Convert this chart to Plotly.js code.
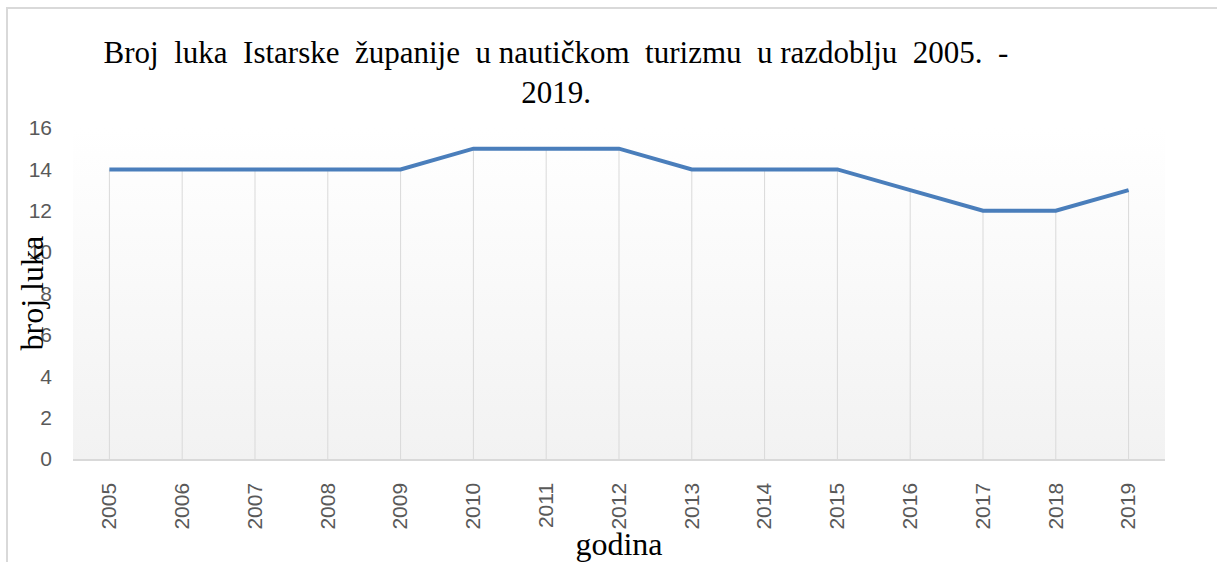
<!DOCTYPE html>
<html>
<head>
<meta charset="utf-8">
<script src="https://cdn.plot.ly/plotly-3.0.1.min.js"></script>
<style>
  html, body { margin: 0; padding: 0; width: 1217px; height: 562px; overflow: hidden; background: #ffffff; }
  #frame { position: absolute; left: 6px; top: 7px; width: 2000px; height: 2000px; border: 2px solid #d9d9d9; box-sizing: border-box; }
  #bg { position: absolute; left: 73px; top: 128px; width: 1092px; height: 331px; background: linear-gradient(to bottom, #ffffff 0%, #fafafa 40%, #f2f2f2 100%); }
  #chart { position: absolute; left: 0; top: 0; width: 1217px; height: 562px; }
</style>
</head>
<body>
<div id="frame"></div>
<div id="bg"></div>
<div id="chart"></div>
<script>
const years = ['2005','2006','2007','2008','2009','2010','2011','2012','2013','2014','2015','2016','2017','2018','2019'];
const brojLuka = [14, 14, 14, 14, 14, 15, 15, 15, 14, 14, 14, 13, 12, 12, 13];
const yTicks = [0, 2, 4, 6, 8, 10, 12, 14, 16];
const chartTitle = 'Broj  luka  Istarske  županije  u nautičkom  turizmu  u razdoblju  2005.  -<br>2019.';
const xTitle = 'godina';
const yTitle = 'broj luka';

const trace = {
  x: years,
  y: brojLuka,
  type: 'scatter',
  mode: 'lines',
  line: { color: '#4a7ebb', width: 4 },
  error_y: {
    type: 'data',
    symmetric: false,
    array: brojLuka.map(() => 0),
    arrayminus: brojLuka,
    color: '#d9d9d9',
    thickness: 1,
    width: 0
  },
  hoverinfo: 'x+y',
  showlegend: false
};

const layout = {
  width: 1217,
  height: 562,
  margin: { l: 73, r: 52, t: 128, b: 103, pad: 0 },
  paper_bgcolor: 'rgba(0,0,0,0)',
  plot_bgcolor: 'rgba(0,0,0,0)',
  title: {
    text: chartTitle,
    font: { family: 'Liberation Serif, Times New Roman, serif', size: 31, color: '#000000' },
    xref: 'container', yref: 'container',
    x: 556 / 1217, xanchor: 'center',
    y: 1 - 63 / 562, yanchor: 'top'
  },
  xaxis: {
    type: 'category',
    range: [-0.5, years.length - 0.5],
    tickangle: -90,
    tickfont: { family: 'Liberation Sans, Arial, sans-serif', size: 21, color: '#595959' },
    showgrid: false,
    showline: true,
    linecolor: '#d9d9d9',
    linewidth: 1.5,
    ticks: '',
    ticklabelstandoff: 14,
    title: {
      text: xTitle,
      font: { family: 'Liberation Serif, Times New Roman, serif', size: 32, color: '#000000' },
      standoff: 6
    },
    automargin: false,
    fixedrange: true
  },
  yaxis: {
    range: [0, 16],
    tickvals: yTicks,
    ticktext: yTicks.map(String),
    tickfont: { family: 'Liberation Sans, Arial, sans-serif', size: 21, color: '#595959' },
    showgrid: false,
    zeroline: false,
    showline: false,
    ticks: '',
    ticklabelstandoff: 20,
    automargin: false,
    fixedrange: true
  },
  annotations: [{
    text: yTitle,
    xref: 'paper', yref: 'y',
    x: (31 - 73) / 1092, y: 8,
    xanchor: 'center', yanchor: 'middle',
    textangle: -90,
    showarrow: false,
    font: { family: 'Liberation Serif, Times New Roman, serif', size: 32, color: '#000000' }
  }]
};

Plotly.newPlot('chart', [trace], layout, { displayModeBar: false, staticPlot: true });
</script>
</body>
</html>
